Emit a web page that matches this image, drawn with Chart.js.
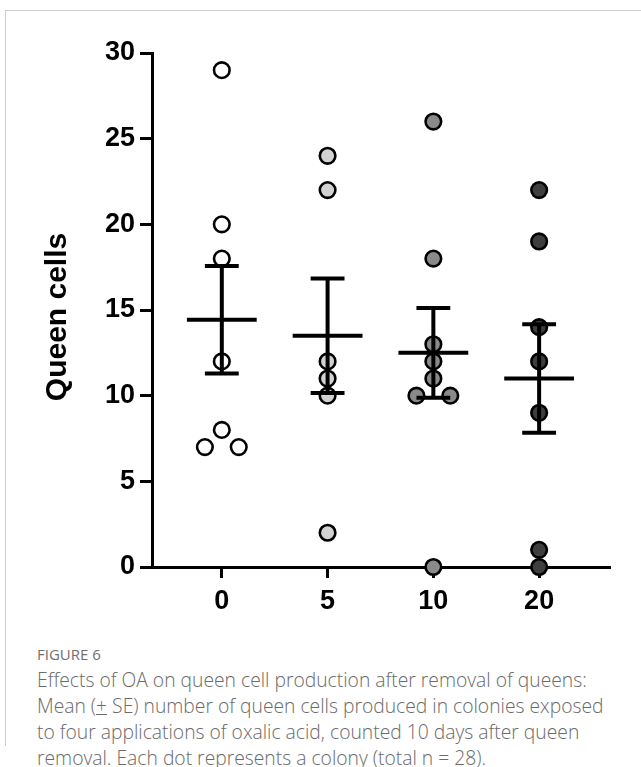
<!DOCTYPE html>
<html>
<head>
<meta charset="utf-8">
<script src="https://cdn.jsdelivr.net/npm/chart.js@4"></script>
<style>
  body { margin: 0; background: #fff; }
  #frame {
    position: absolute; left: 5px; top: 10px; width: 636px; height: 735px;
    border-top: 1px solid #cfcfcf; border-left: 1px solid #cfcfcf;
  }
  #box { position: absolute; left: 0; top: 0; width: 641px; height: 627px; }
  #caption {
    position: absolute; left: 37px; top: 641px; width: 600px;
    font-family: "Open Sans", sans-serif; color: #6a6a6a; white-space: nowrap;
  }
  #caption .fig { font-size: 15px; line-height: 26px; color: #707070; }
  #caption .txt { font-size: 19.3px; line-height: 26px; font-weight: 300; }
</style>
</head>
<body>
<div id="frame"></div>
<div id="box"><canvas id="grafico" width="641" height="627"></canvas></div>
<div id="caption">
  <div class="fig">FIGURE 6</div>
  <div class="txt">Effects of OA on queen cell production after removal of queens:<br>Mean (<u>+</u> SE) number of queen cells produced in colonies exposed<br>to four applications of oxalic acid, counted 10 days after queen<br>removal. Each dot represents a colony (total n = 28).</div>
</div>
<script>
// doses (OA applications) on the x axis
var doses = ['0', '5', '10', '20']
// queen cells per colony
var cells0 = [29, 20, 18, 12, 8, 7, 7]
var cells5 = [24, 22, 12, 11, 10, 2]
var cells10 = [26, 18, 13, 12, 11, 10, 10, 0]
var cells20 = [22, 19, 14, 12, 9, 1, 0]
var yTicks = [0, 5, 10, 15, 20, 25, 30]

var grupos = [cells0, cells5, cells10, cells20]
var cores = ['#ffffff', '#d2d2d2', '#8a8a8a', '#3e3e3e']

function media(v) {
    var s = 0
    for (var i = 0; i < v.length; i++) s += v[i]
    return s / v.length
}
function erroPadrao(v) {
    var m = media(v)
    var s = 0
    for (var i = 0; i < v.length; i++) s += (v[i] - m) * (v[i] - m)
    return Math.sqrt(s / (v.length - 1)) / Math.sqrt(v.length)
}

var datasets = []

// mean and SE lines go on top of the dots
for (var g = 0; g < grupos.length; g++) {
    var m = media(grupos[g])
    var se = erroPadrao(grupos[g])
    datasets.push({
        type: 'scatter',
        showLine: true,
        order: 0,
        data: [
            { x: g - 0.33, y: m }, { x: g + 0.33, y: m }, { x: g, y: null },
            { x: g, y: m - se }, { x: g, y: m + se }, { x: g, y: null },
            { x: g - 0.16, y: m + se }, { x: g + 0.16, y: m + se }, { x: g, y: null },
            { x: g - 0.16, y: m - se }, { x: g + 0.16, y: m - se }
        ],
        spanGaps: false,
        borderColor: '#000',
        borderWidth: 4,
        borderCapStyle: 'butt',
        pointRadius: 0,
        clip: false
    })
}

for (var g = 0; g < grupos.length; g++) {
    var pontos = []
    var vistos = {}
    for (var i = 0; i < grupos[g].length; i++) {
        var v = grupos[g][i]
        var repetidos = grupos[g].filter(function (a) { return a == v }).length
        var desloc = 0
        if (repetidos > 1) {
            vistos[v] = (vistos[v] || 0) + 1
            desloc = vistos[v] == 1 ? -0.16 : 0.16
        }
        pontos.push({ x: g + desloc, y: v })
    }
    datasets.push({
        type: 'scatter',
        order: 1,
        data: pontos,
        backgroundColor: cores[g],
        borderColor: '#000',
        borderWidth: 2.6,
        pointRadius: 7.8,
        pointHoverRadius: 7.8,
        clip: false
    })
}

var fonteEixo = { family: '"Liberation Sans", Arial, sans-serif', size: 27, weight: 'bold' }

// nudges the rotated axis title down a little, like the original
var tituloY = {
    id: 'tituloY',
    afterDraw: function (chart) {
        var ctx = chart.ctx
        ctx.save()
        ctx.translate(58, 317)
        ctx.rotate(-Math.PI / 2)
        ctx.font = 'bold 30px "Liberation Sans", Arial, sans-serif'
        ctx.fillStyle = '#000'
        ctx.textAlign = 'center'
        ctx.textBaseline = 'middle'
        ctx.fillText('Queen cells', 0, 0)
        ctx.restore()
    }
}

new Chart(document.getElementById('grafico'), {
    type: 'scatter',
    data: { datasets: datasets },
    plugins: [tituloY],
    options: {
        responsive: false,
        animation: false,
        layout: { padding: { top: 53, right: 31, left: 0, bottom: 0 } },
        plugins: { legend: { display: false }, tooltip: { enabled: false } },
        scales: {
            x: {
                type: 'linear',
                min: -0.66,
                max: 3.67,
                afterFit: function (scale) { scale.height = 60 },
                afterBuildTicks: function (scale) {
                    scale.ticks = doses.map(function (d, i) { return { value: i } })
                },
                ticks: {
                    color: '#000',
                    font: fonteEixo,
                    padding: 7,
                    callback: function (value) { return doses[value] }
                },
                grid: { drawOnChartArea: false, tickLength: 11, tickWidth: 3, tickColor: '#000' },
                border: { display: true, width: 3, color: '#000' }
            },
            y: {
                min: 0,
                max: 30,
                afterFit: function (scale) { scale.width = 152 },
                afterBuildTicks: function (scale) {
                    scale.ticks = yTicks.map(function (t) { return { value: t } })
                },
                ticks: { color: '#000', font: fonteEixo, padding: 5 },
                grid: { drawOnChartArea: false, tickLength: 12, tickWidth: 3, tickColor: '#000' },
                border: { display: true, width: 3, color: '#000' }
            }
        }
    }
});
</script>
</body>
</html>
